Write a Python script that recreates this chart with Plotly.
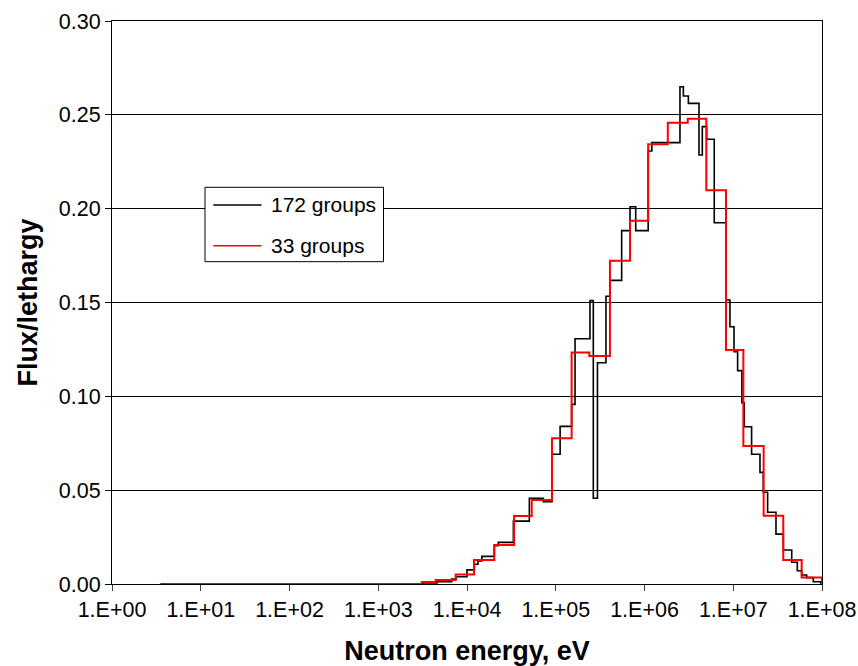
import plotly.graph_objects as go

# 172-group spectrum: lower group boundary energies (eV) and flux per unit lethargy
e172 = [3.5, 3.19e3, 4.59e3, 6.73e3, 7.52e3, 1.0e4, 1.21e4, 1.33e4, 1.47e4, 2.03e4,
        2.25e4, 3.33e4, 5.04e4, 7.24e4, 9.08e4, 1.12e5, 1.51e5, 1.65e5, 2.43e5, 2.65e5,
        2.95e5, 3.68e5, 4.08e5, 5.53e5, 6.87e5, 7.96e5, 1.10e6, 1.21e6, 2.51e6, 2.74e6,
        3.12e6, 4.11e6, 4.48e6, 5.02e6, 6.11e6, 8.28e6, 9.18e6, 1.02e7, 1.12e7, 1.25e7,
        1.33e7, 1.61e7, 2.00e7, 2.18e7, 2.44e7, 3.03e7, 3.67e7, 4.56e7, 5.27e7, 5.90e7,
        6.72e7, 7.98e7, 9.66e7, 1.0e8]
f172 = [0.0, 0.0005, 0.0012, 0.0027, 0.0039, 0.0075, 0.0105, 0.0123, 0.0147, 0.0204,
        0.0222, 0.0335, 0.0457, 0.0439, 0.0691, 0.0840, 0.0957, 0.1307, 0.1510, 0.0457,
        0.1179, 0.1533, 0.1618, 0.1883, 0.2010, 0.1883, 0.2307, 0.2352, 0.2650, 0.2600,
        0.2561, 0.2286, 0.2437, 0.2370, 0.1925, 0.1513, 0.1371, 0.1238, 0.1137, 0.0966,
        0.0838, 0.0691, 0.0595, 0.0489, 0.0382, 0.0266, 0.0181, 0.0116, 0.0071, 0.0048,
        0.0034, 0.0012, 0.0005, 0.0]

# 33-group spectrum: lower group boundary energies (eV) and flux per unit lethargy
e33 = [4.0, 3.09e3, 4.44e3, 7.46e3, 1.20e4, 2.03e4, 3.39e4, 5.36e4, 9.07e4, 1.51e5,
       2.39e5, 4.08e5, 6.87e5, 1.10e6, 1.83e6, 3.07e6, 4.97e6, 8.28e6, 1.30e7, 2.20e7,
       3.66e7, 5.90e7, 1.0e8]
f33 = [0.0, 0.0011, 0.0021, 0.0050, 0.0128, 0.0208, 0.0362, 0.0448, 0.0776, 0.1233,
       0.1215, 0.1723, 0.1936, 0.2343, 0.2458, 0.2479, 0.2098, 0.1247, 0.0735, 0.0364,
       0.0128, 0.0034, 0.0]

# x-axis decade ticks
x_tickvals = [1, 10, 100, 1e3, 1e4, 1e5, 1e6, 1e7, 1e8]
x_ticktext = ["1.E+00", "1.E+01", "1.E+02", "1.E+03", "1.E+04",
              "1.E+05", "1.E+06", "1.E+07", "1.E+08"]

series_names = ["172 groups", "33 groups"]
series_colors = ["black", "#ff0000"]
series_widths = [1.6, 2.0]

FONT = "Liberation Sans, Arial, sans-serif"

fig = go.Figure()
for xs, ys, name, color, width in zip([e172, e33], [f172, f33],
                                      series_names, series_colors, series_widths):
    fig.add_trace(go.Scatter(
        x=xs, y=ys, mode="lines", line_shape="hv",
        line=dict(color=color, width=width),
        name=name, showlegend=False,
    ))

# Boxed legend inside the plot area (paper coordinates of the plot domain)
box_x0, box_x1 = 0.131, 0.3824
box_y0, box_y1 = 0.5725, 0.7046
line_x0, line_x1 = 0.1427, 0.2107
text_x = 0.2211
row_y = [0.6732, 0.6009]

fig.add_shape(type="rect", xref="paper", yref="paper",
              x0=box_x0, x1=box_x1, y0=box_y0, y1=box_y1,
              line=dict(color="black", width=1), fillcolor="white", layer="above")
for name, color, yy in zip(series_names, series_colors, row_y):
    fig.add_shape(type="line", xref="paper", yref="paper",
                  x0=line_x0, x1=line_x1, y0=yy, y1=yy,
                  line=dict(color=color, width=1.6), layer="above")
    fig.add_annotation(xref="paper", yref="paper", x=text_x, y=yy,
                       text=name, showarrow=False, xanchor="left", yanchor="middle",
                       font=dict(size=21, family=FONT, color="black"))

fig.update_layout(
    width=858, height=666,
    margin=dict(l=112, r=36, t=21, b=82),
    paper_bgcolor="white", plot_bgcolor="white",
    font=dict(family=FONT, color="black", size=21),
    showlegend=False,
)

fig.update_xaxes(
    type="log", range=[0, 8], automargin=False,
    tickmode="array", tickvals=x_tickvals, ticktext=x_ticktext,
    ticks="outside", ticklen=6, tickcolor="#404040", tickwidth=1,
    showline=True, linecolor="black", linewidth=1, mirror=True,
    showgrid=False, zeroline=False,
    tickfont=dict(size=21.5, family=FONT, color="black"),
    title=dict(text="<b>Neutron energy, eV</b>",
               font=dict(size=27, family=FONT, color="black"), standoff=29),
)
fig.update_yaxes(
    range=[0, 0.30], dtick=0.05, tick0=0, tickformat=".2f", automargin=False,
    ticks="outside", ticklen=6, tickcolor="black", tickwidth=1,
    showline=True, linecolor="black", linewidth=1, mirror=True,
    showgrid=True, gridcolor="black", gridwidth=1, zeroline=False,
    tickfont=dict(size=21.5, family=FONT, color="black"),
    title=dict(text="<b>Flux/lethargy</b>",
               font=dict(size=27, family=FONT, color="black"), standoff=13),
)

fig.write_html("out.html")
